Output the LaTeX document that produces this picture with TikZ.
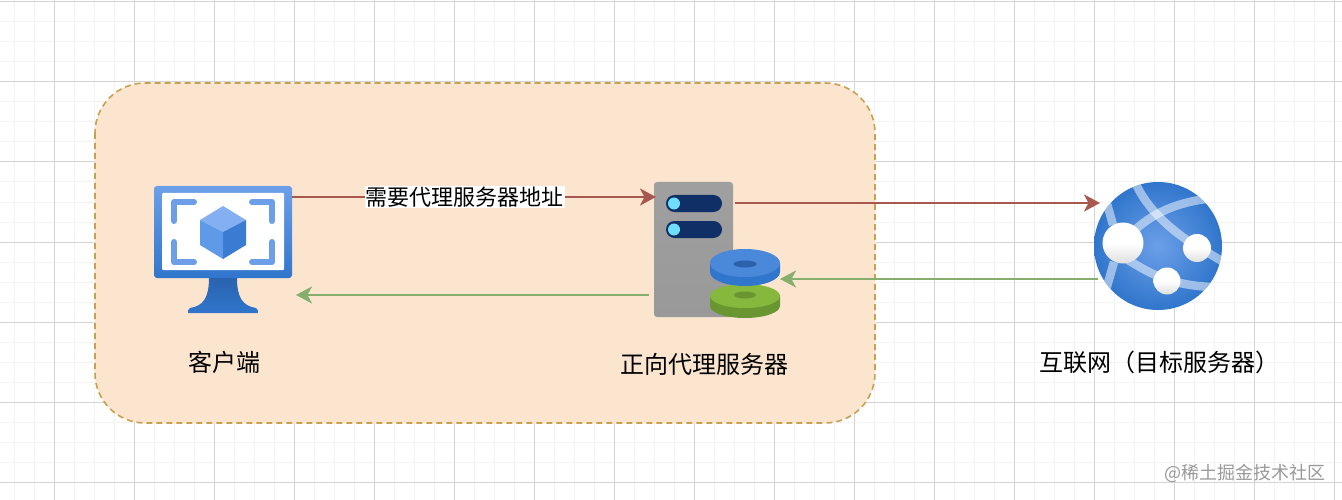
\documentclass[tikz,border=0pt]{standalone}
\usepackage{fontspec}
\setmainfont{Noto Sans CJK SC}
\usetikzlibrary{positioning, arrows.meta}
\definecolor{gridmajor}{HTML}{D4D4D4}
\definecolor{gridminor}{HTML}{F3F3F3}
\definecolor{boxfill}{HTML}{FBE5CF}
\definecolor{boxdraw}{HTML}{C9A04E}
\definecolor{reqline}{HTML}{A8574F}
\definecolor{respline}{HTML}{86AE6C}
\definecolor{azlight}{HTML}{6C9FE8}
\definecolor{azmid}{HTML}{4A88DA}
\definecolor{azdark}{HTML}{2A62AE}
\definecolor{azedge}{HTML}{3076CC}
\definecolor{cubetop}{HTML}{84B0F2}
\definecolor{cubeleft}{HTML}{5F9AE8}
\definecolor{cuberight}{HTML}{3A7CD2}
\definecolor{pilldark}{HTML}{0F2F66}
\definecolor{pilllight}{HTML}{6FDDFF}
\definecolor{diskgreen}{HTML}{86B83E}
\definecolor{diskgreendark}{HTML}{6A9632}
\begin{document}
\begin{tikzpicture}[x=1pt, y=-1pt,
    iconbox/.style = {inner sep=0pt, outer sep=0pt},
    caption/.style = {inner sep=0pt, font=\fontsize{24}{27}\selectfont},
    req/.style = {draw=reqline, line width=2.2pt, -{Stealth[length=16pt, width=17pt, inset=4.5pt]}},
    resp/.style = {draw=respline, line width=2.2pt, -{Stealth[length=16pt, width=17pt, inset=4.5pt]}},
    band/.style = {draw=white, draw opacity=0.5, line width=8.5pt},
    corner/.style = {draw=azlight, line width=6pt, line join=round, line cap=round},
    ball/.style = {top color=white, bottom color=gray!25, middle color=white}]
  \useasboundingbox (0,0) rectangle (1342,500);
  \fill[white] (0,0) rectangle (1342,500);
  % grid
  \foreach \x in {14,34,...,1334} \draw[gridminor, line width=1pt] (\x,0) -- (\x,500);
  \foreach \y in {2,22,...,482} \draw[gridminor, line width=1pt] (0,\y) -- (1342,\y);
  \foreach \x in {54,134,...,1334} \draw[gridmajor, line width=1pt] (\x,0) -- (\x,500);
  \foreach \y in {2,82,...,482} \draw[gridmajor, line width=1pt] (0,\y) -- (1342,\y);
  % group box
  \draw[boxdraw, fill=boxfill, line width=1.6pt, dash pattern=on 6pt off 4pt, rounded corners=50pt] (95,83) rectangle (875,423);
  % icon nodes
  \node[iconbox, minimum width=138pt, minimum height=128pt] (client) at (223,250) {};
  \node[iconbox, minimum width=79pt, minimum height=135pt] (server) at (693.5,249.5) {};
  \node[iconbox, minimum width=70pt, minimum height=69pt] (disks) at (745,283.5) {};
  \node[iconbox, circle, minimum size=128pt] (globe) at (1158,246) {};
  % client
  \shade[top color=azdark, bottom color=azedge] (209,278) -- (237,278) .. controls (237,298) and (243,306) .. (256,308) .. controls (258,309) and (258,311) .. (258,313) -- (188,313) .. controls (188,311) and (188,309) .. (190,308) .. controls (203,306) and (209,298) .. (209,278) -- cycle;
  \shade[top color=azlight, bottom color=azedge, rounded corners=3pt] (154,186) rectangle (292,278);
  \fill[white, rounded corners=1pt] (162,193) rectangle (284,270);
  \draw[corner] (174,221) -- (174,202) -- (194,202);
  \draw[corner] (252,202) -- (272,202) -- (272,221);
  \draw[corner] (174,242) -- (174,262) -- (194,262);
  \draw[corner] (252,262) -- (272,262) -- (272,242);
  \fill[cubetop] (223,206) -- (246,220) -- (223,232) -- (200,220) -- cycle;
  \fill[cubeleft] (200,220) -- (223,232) -- (223,259) -- (200,245) -- cycle;
  \fill[cuberight] (246,220) -- (223,232) -- (223,259) -- (246,245) -- cycle;
  % server
  \shade[top color=gray!75, bottom color=gray!80, rounded corners=3pt] (654,182) rectangle (733,317);
  \foreach \y in {203.5,229.5} {
    \fill[pilldark, rounded corners=8.5pt] (666,\y-8.5) rectangle (722,\y+8.5);
    \fill[pilllight] (674,\y) circle (6pt);
  }
  % disks
  \fill[diskgreendark] (710,295) -- (710,306) arc[start angle=180, end angle=360, x radius=35pt, y radius=12pt] -- (780,295) -- cycle;
  \fill[diskgreen] (745,296) ellipse (35pt and 12pt);
  \fill[diskgreendark] (745,295) ellipse (11pt and 3.5pt);
  \fill[azedge] (710,263) -- (710,272) arc[start angle=180, end angle=360, x radius=35pt, y radius=14pt] -- (780,263) -- cycle;
  \fill[azmid] (745,263) ellipse (35pt and 14pt);
  \fill[azdark] (745,264) ellipse (11.5pt and 3.5pt);
  % globe
  \begin{scope}
    \clip (1158,246) circle (64pt);
    \shade[inner color=azlight, outer color=azedge] (1094,182) rectangle (1222,310);
    \draw[band] (1135,182) .. controls (1145,205) and (1165,225) .. (1187,240) -- (1225,263);
    \draw[band] (1123,243) .. controls (1145,215) and (1175,203) .. (1206,199);
    \draw[band] (1106,200) -- (1113,225);
    \draw[band] (1114,262) -- (1106,290);
    \draw[band] (1123,257) .. controls (1145,270) and (1165,285) .. (1212,287);
  \end{scope}
  \shade[ball] (1123,243) circle (20.5pt);
  \shade[ball] (1197,248) circle (14pt);
  \shade[ball] (1167,281) circle (13.5pt);
  % captions
  \node[caption, below=37pt of client, xshift=1pt] (clientlabel) {客户端};
  \node[caption, below=36pt of server, xshift=11pt] (serverlabel) {正向代理服务器};
  \node[caption, below=41pt of globe, xshift=1pt] (globelabel) {互联网（目标服务器）};
  \node[inner sep=0pt, text=gray!80, font=\fontsize{18}{20}\selectfont, anchor=east] (mark) at (1326,473) {@稀土掘金技术社区};
  % connectors
  \draw[req] ([yshift=53pt]client.east) -- node[pos=0.475, fill=white, inner sep=1pt, font=\fontsize{22}{24}\selectfont] (reqlabel) {需要代理服务器地址} ([shift={(2pt,52.5pt)}]server.west);
  \draw[req] ([shift={(2pt,46.5pt)}]server.east) -- ([shift={(6pt,43pt)}]globe.west);
  \draw[resp] ([shift={(4pt,-33pt)}]globe.west) -- ([yshift=4.5pt]disks.east);
  \draw[resp] ([shift={(-5pt,-45.5pt)}]server.west) -- ([shift={(4pt,-45pt)}]client.east);
\end{tikzpicture}
\end{document}
